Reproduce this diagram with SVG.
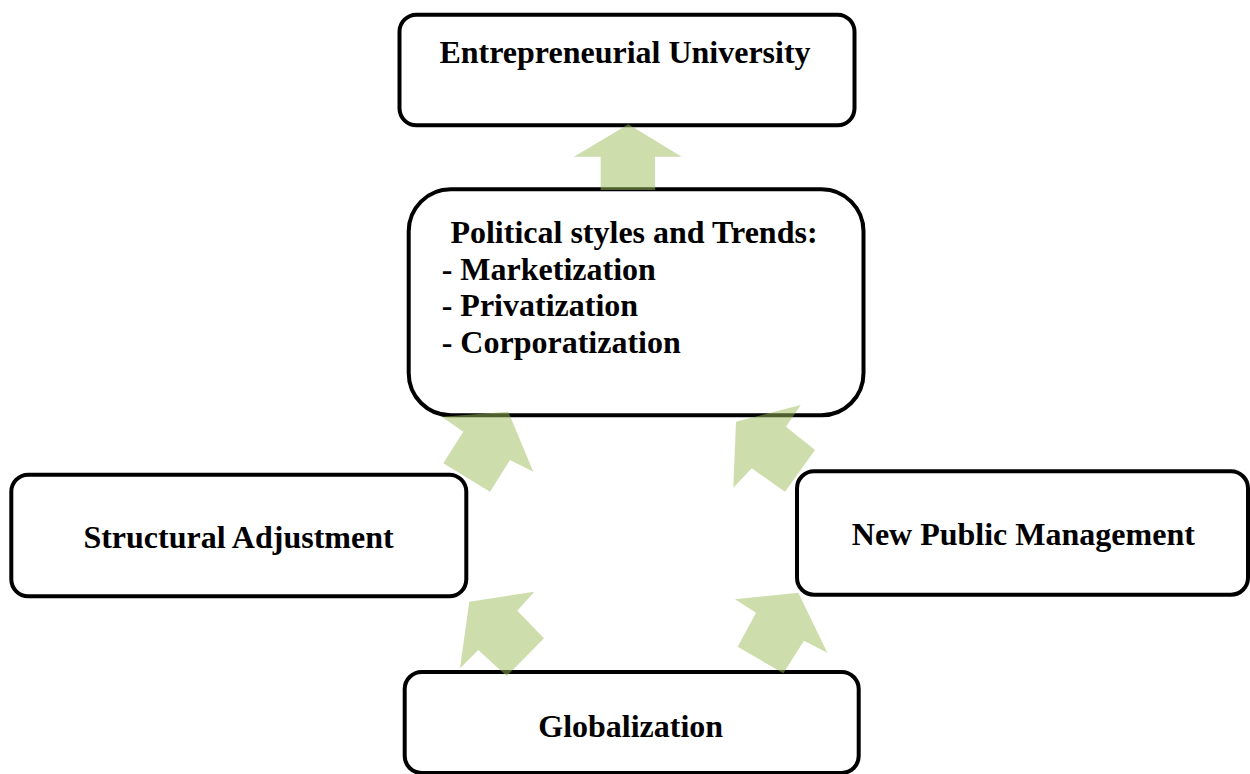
<svg xmlns="http://www.w3.org/2000/svg" width="1250" height="774" viewBox="0 0 1250 774">
<style>
.box{fill:#ffffff;stroke:#000000;stroke-width:4}
.t{font-family:"Liberation Serif","Times New Roman",serif;font-weight:bold;font-size:32px;fill:#000000}
.arr{fill:#9BBB59;fill-opacity:0.5;stroke:none}
</style>
<rect width="1250" height="774" fill="#ffffff"/>
<g id="entrepreneurial-university">
<rect class="box" x="399.5" y="14.7" width="455" height="110.6" rx="17"/>
<text class="t" x="625" y="63" text-anchor="middle">Entrepreneurial University</text>
</g>
<g id="political-styles">
<rect class="box" x="408.7" y="189.3" width="454.8" height="226" rx="42"/>
<text class="t" x="634" y="243.3" text-anchor="middle">Political styles and Trends:</text>
<text class="t" x="441.7" y="280">- Marketization</text>
<text class="t" x="441.7" y="316.3">- Privatization</text>
<text class="t" x="441.7" y="352.7">- Corporatization</text>
</g>
<g id="structural-adjustment">
<rect class="box" x="11.3" y="474.7" width="455" height="121.6" rx="17"/>
<text class="t" x="238.5" y="548.3" text-anchor="middle">Structural Adjustment</text>
</g>
<g id="new-public-management">
<rect class="box" x="797" y="471.3" width="451" height="123.4" rx="17"/>
<text class="t" x="1023.3" y="545" text-anchor="middle">New Public Management</text>
</g>
<g id="globalization">
<rect class="box" x="404.7" y="672" width="454" height="101" rx="17"/>
<text class="t" x="630.7" y="736.7" text-anchor="middle">Globalization</text>
</g>
<g id="connectors">
<polygon class="arr" points="628.3,124.3 681.7,156.7 655,156.7 655,190 600.7,190 600.7,156.7 574,156.7"/>
<polygon class="arr" points="508.3,411.7 533.3,471.7 510,460 490,491.7 443.3,463.3 463.3,431.7 441.7,416.7"/>
<polygon class="arr" points="736,421.7 800.7,405 786,426.7 815,450 785,491.7 751.7,468.3 733.3,487.7"/>
<polygon class="arr" points="469.3,601.7 534.3,591.7 517.3,610.7 544,638.3 506.7,676 478.3,650 460,668.3"/>
<polygon class="arr" points="798.3,592.7 827.3,652.7 804,640.7 783.3,673.3 737.7,646.7 756,612.7 735,599.3"/>
</g>
</svg>
